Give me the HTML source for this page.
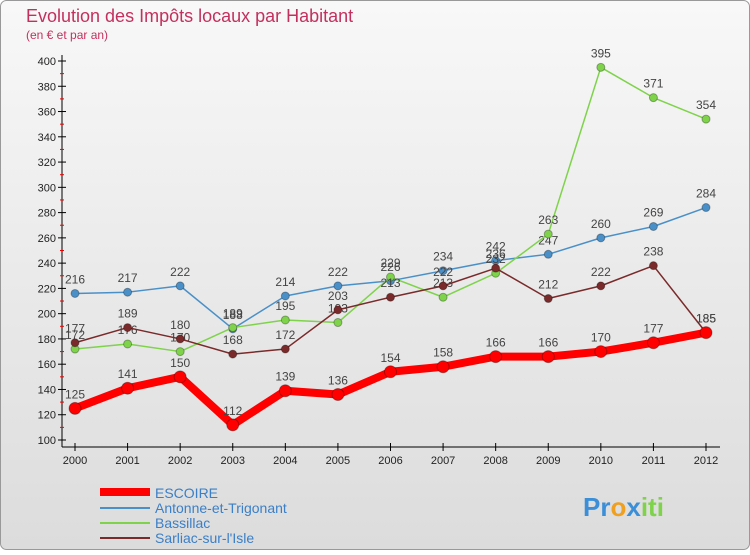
<!DOCTYPE html>
<html><head><meta charset="utf-8"><style>
body{margin:0;width:750px;height:550px;overflow:hidden;font-family:"Liberation Sans",sans-serif}
</style></head><body>
<svg width="750" height="550" xmlns="http://www.w3.org/2000/svg">
<defs><linearGradient id="bg" x1="0" y1="0" x2="0" y2="1"><stop offset="0" stop-color="#f8f8f8"/><stop offset="1" stop-color="#dcdcdc"/></linearGradient></defs>
<rect x="0.5" y="0.5" width="749" height="549" rx="6" fill="url(#bg)" stroke="#999"/>
<text x="26" y="22" font-size="18" fill="#c4305e">Evolution des Impôts locaux par Habitant</text>
<text x="26" y="39" font-size="12" fill="#c4305e">(en € et par an)</text>
<g id="axes"></g><g id="series"></g>
<g>
<line x1="100" y1="492" x2="150" y2="492" stroke="#f00" stroke-width="8"/><text x="155" y="498" font-size="14" fill="#3a7fc8">ESCOIRE</text>
<line x1="100" y1="508" x2="150" y2="508" stroke="#4a90c8" stroke-width="2"/><text x="155" y="513" font-size="14" fill="#3a7fc8">Antonne-et-Trigonant</text>
<line x1="100" y1="523" x2="150" y2="523" stroke="#7ed34a" stroke-width="2"/><text x="155" y="528" font-size="14" fill="#3a7fc8">Bassillac</text>
<line x1="100" y1="538" x2="150" y2="538" stroke="#7a2a2a" stroke-width="2"/><text x="155" y="543" font-size="14" fill="#3a7fc8">Sarliac-sur-l'Isle</text>
</g>
<text x="583" y="516" font-size="26" font-weight="bold"><tspan fill="#3a8fd8">Pr</tspan><tspan fill="#f0a020">o</tspan><tspan fill="#3a8fd8">x</tspan><tspan fill="#7ed34a">iti</tspan></text>
</svg>
<script>
const years=[2000,2001,2002,2003,2004,2005,2006,2007,2008,2009,2010,2011,2012];
const escoire=[125,141,150,112,139,136,154,158,166,166,170,177,185];
const antonne=[216,217,222,188,214,222,226,234,242,247,260,269,284];
const bassillac=[172,176,170,189,195,193,229,213,232,263,395,371,354];
const sarliac=[177,189,180,168,172,203,213,222,236,212,222,238,185];
const yTicks=[100,120,140,160,180,200,220,240,260,280,300,320,340,360,380,400];
const NS="http://www.w3.org/2000/svg";
const X=i=>75+i*(706-75)/(years.length-1);
const Y=v=>440-(v-100)*(440-61)/300;
function mk(t,a,p){const e=document.createElementNS(NS,t);for(const k in a)e.setAttribute(k,a[k]);p.appendChild(e);return e;}
const ax=document.getElementById('axes');
let l=mk('line',{x1:62,y1:55,x2:62,y2:447,stroke:'#000'},ax);

l=mk('line',{x1:62,y1:447,x2:720,y2:447,stroke:'#000'},ax);

yTicks.forEach(v=>{const y=Y(v);
 mk('line',{x1:58,y1:y,x2:66,y2:y,stroke:'#000'},ax);
 if(v<400)mk('line',{x1:60,y1:Y(v+10),x2:64,y2:Y(v+10),stroke:'#e00'},ax);
 const t=mk('text',{x:56,y:y+4,'font-size':11,'text-anchor':'end',fill:'#222'},ax);t.textContent=v;
 });
years.forEach((yr,i)=>{const x=X(i);
 mk('line',{x1:x,y1:443,x2:x,y2:451,stroke:'#000'},ax);
 const t=mk('text',{x:x,y:464,'font-size':11,'text-anchor':'middle',fill:'#222'},ax);t.textContent=yr;
 });
const sg=document.getElementById('series');
function draw(vals,color,w,r,name){
 const g=mk('g',{},sg);
 mk('polyline',{points:vals.map((v,i)=>X(i)+','+Y(v)).join(' '),fill:'none',stroke:color,'stroke-width':w,'stroke-linejoin':'round'},g);
 vals.forEach((v,i)=>{const c=mk('circle',{cx:X(i),cy:Y(v),r:r,fill:color,stroke:'rgba(0,0,0,0.3)'},g);
  
  const t=mk('text',{x:X(i),y:Y(v)-10,'font-size':12,'text-anchor':'middle',fill:'#444'},g);t.textContent=v;
  });
}
draw(antonne,'#4a90c8',1.5,4,'antonne-series');
draw(bassillac,'#7ed34a',1.5,4,'bassillac-series');
draw(sarliac,'#7a2a2a',1.5,4,'sarliac-series');
draw(escoire,'#f00',8,6,'escoire-series');
</script>
</body></html>
